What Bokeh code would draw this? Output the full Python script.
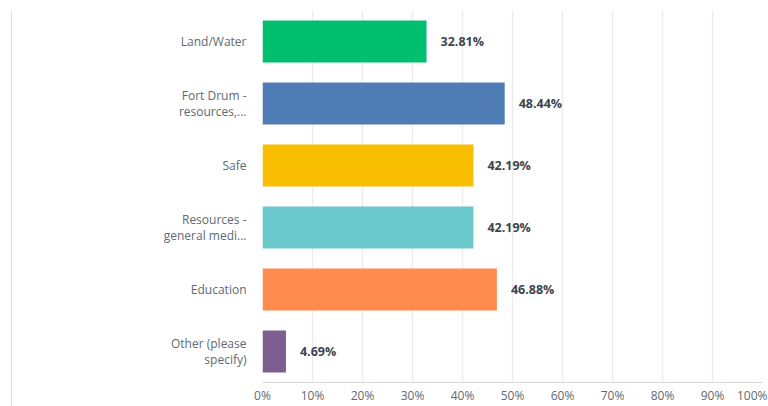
from bokeh.plotting import figure
from bokeh.models import ColumnDataSource, FactorRange, Range1d, FixedTicker, PrintfTickFormatter
from bokeh.embed import file_html
from bokeh.resources import INLINE
from bokeh.core.properties import value

categories = ["Land/Water", "Fort Drum -\nresources,...", "Safe",
              "Resources -\ngeneral medi...", "Education", "Other (please\nspecify)"]
percents = [32.81, 48.44, 42.19, 42.19, 46.88, 4.69]
colors = ["#00BF6F", "#507CB6", "#F9BE00", "#6BC8CD", "#FF8B4F", "#7D5E90"]
x_ticks = [0, 10, 20, 30, 40, 50, 60, 70, 80, 90, 100]

src = ColumnDataSource(dict(
    cat=categories, pct=percents, color=colors,
    label=[f"{v:.2f}%" for v in percents],
))

p = figure(
    width=756, height=396,
    y_range=FactorRange(factors=list(reversed(categories)), range_padding=0),
    x_range=Range1d(0, 100),
    output_backend="svg", toolbar_location=None,
    min_border_left=250, min_border_right=6, min_border_top=0, min_border_bottom=20,
)
p.margin = (10, 0, 0, 11)
p.styles = {"border-left": "1px solid #e2e2e2"}
p.outline_line_color = None

p.hbar(y="cat", right="pct", left=0, height=0.68, color="color", source=src, line_color=None)
p.text(x="pct", y="cat", text="label", source=src, x_offset=14,
       text_align="left", text_baseline="middle", text_font=value("Open Sans"),
       text_font_size="12.5px", text_font_style="bold", text_color="#3b454d")

p.xaxis.ticker = FixedTicker(ticks=x_ticks)
p.xaxis.formatter = PrintfTickFormatter(format="%d%%")
p.xaxis.major_tick_line_color = None
p.xaxis.major_tick_out = 0
p.xaxis.major_tick_in = 0
p.xaxis.minor_tick_line_color = None
p.xaxis.minor_tick_out = 0
p.xaxis.axis_line_color = "#d6d6d6"
p.xaxis.major_label_standoff = 4
p.xaxis.major_label_text_font = "Open Sans"
p.xaxis.major_label_text_font_size = "12px"
p.xaxis.major_label_text_color = "#5e6a71"

p.yaxis.major_tick_line_color = None
p.yaxis.major_tick_out = 0
p.yaxis.major_tick_in = 0
p.yaxis.minor_tick_line_color = None
p.yaxis.axis_line_color = None
p.yaxis.major_label_standoff = 16
p.yaxis.major_label_text_font = "Open Sans"
p.yaxis.major_label_text_font_size = "12px"
p.yaxis.major_label_text_line_height = 0.92
p.yaxis.major_label_text_color = "#5e6a71"

p.xgrid.ticker = FixedTicker(ticks=x_ticks)
p.xgrid.grid_line_color = "#ececec"
p.xgrid.grid_line_width = 1.5
p.ygrid.grid_line_color = None

open("out.html", "w").write(file_html(p, INLINE))
